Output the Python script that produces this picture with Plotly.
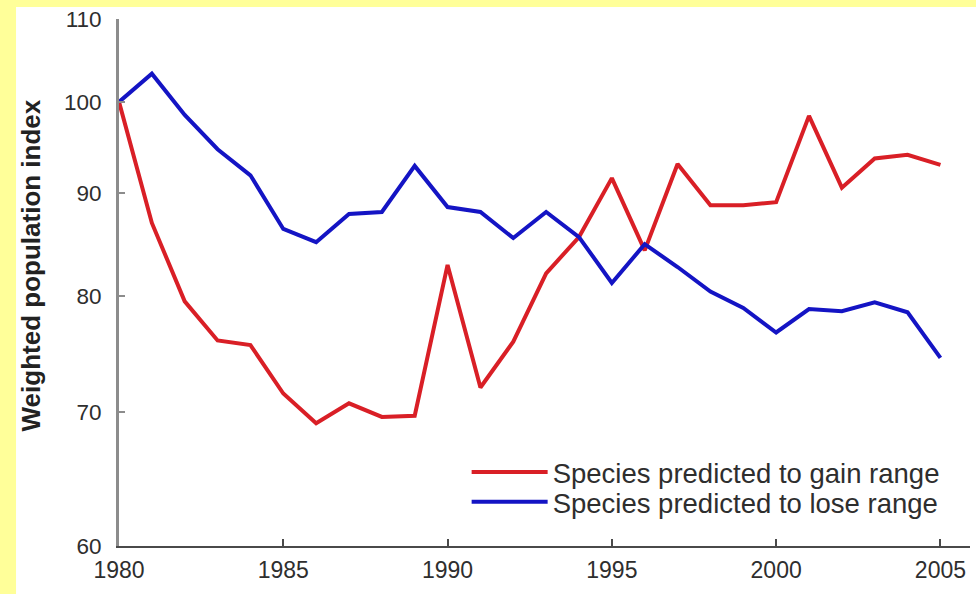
import plotly.graph_objects as go

# Weighted population index (1980 = 100) for two groups of species
years = list(range(1980, 2006))
gain_range = [100.0, 87.0, 79.5, 76.0, 75.6, 71.5, 69.1, 70.7, 69.6, 69.7,
              82.9, 72.0, 75.9, 82.1, 85.6, 91.6, 84.3, 93.1, 88.8, 88.8,
              89.1, 98.4, 90.6, 93.7, 94.1, 93.0]
lose_range = [100.0, 103.3, 98.5, 94.7, 91.9, 86.4, 85.1, 87.9, 88.1, 92.9,
              88.6, 88.1, 85.5, 88.1, 85.6, 81.2, 84.9, 82.7, 80.4, 78.9,
              76.7, 78.8, 78.6, 79.4, 78.5, 74.5]

series_names = ["Species predicted to gain range", "Species predicted to lose range"]
series_colors = ["#D91F26", "#1414C4"]
legend_ids = ["legend", "legend2"]

x_ticks = [1980, 1985, 1990, 1995, 2000, 2005]
y_ticks = [60, 70, 80, 90, 100, 110]

FONT = "Liberation Sans"
TEXT = "#2e2e2e"

fig = go.Figure()
for name, values, color, lg in zip(series_names, [gain_range, lose_range],
                                   series_colors, legend_ids):
    fig.add_trace(go.Scatter(
        x=years, y=values, name=name, mode="lines", legend=lg,
        line=dict(color=color, width=4), cliponaxis=False,
    ))

# white panel over the pale yellow page
fig.add_shape(type="rect", xref="paper", yref="paper",
              x0=-0.121, x1=1.01, y0=-0.1, y1=1.0228,
              fillcolor="white", line=dict(width=0), layer="below")

legend_style = dict(xanchor="left", yanchor="middle", bgcolor="rgba(0,0,0,0)",
                    font=dict(size=27.5, color=TEXT, family=FONT), itemwidth=76)

fig.update_layout(
    width=976, height=594,
    margin=dict(l=119, r=6, t=19, b=48),
    paper_bgcolor="#FFFF99",
    plot_bgcolor="rgba(0,0,0,0)",
    font=dict(family=FONT, color=TEXT),
    showlegend=True,
    legend=dict(x=0.4085, y=0.1404, **legend_style),
    legend2=dict(x=0.4085, y=0.0835, **legend_style),
    annotations=[dict(
        text="<b>Weighted population index</b>", textangle=-90,
        xref="paper", yref="paper", x=-0.103, y=0.533,
        xanchor="center", yanchor="middle", showarrow=False,
        font=dict(size=26, color="#222222", family=FONT),
    )],
)

fig.update_xaxes(
    range=[1980, 2005.9], tickvals=x_ticks, ticktext=[str(v) for v in x_ticks],
    showgrid=False, zeroline=False,
    showline=True, linecolor="#4a4a4a", linewidth=2,
    ticks="inside", ticklen=7, tickwidth=2, tickcolor="#4a4a4a",
    tickfont=dict(size=23, color=TEXT, family=FONT), ticklabelstandoff=2,
)
fig.update_yaxes(
    type="log", range=[1.7781513, 2.0413927],
    tickvals=y_ticks, ticktext=[str(v) for v in y_ticks],
    showgrid=False, zeroline=False,
    showline=True, linecolor="#8c8c8c", linewidth=3,
    ticks="inside", ticklen=6, tickwidth=2, tickcolor="#8c8c8c",
    tickfont=dict(size=22.5, color=TEXT, family=FONT), ticklabelstandoff=10,
)

fig.write_html("out.html")
